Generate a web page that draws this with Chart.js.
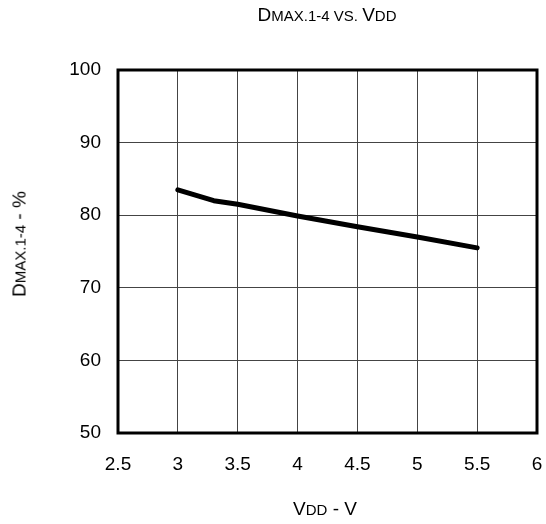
<!DOCTYPE html>
<html>
<head>
<meta charset="utf-8">
<script src="https://cdn.jsdelivr.net/npm/chart.js@4.4.1/dist/chart.umd.min.js"></script>
<style>
  html, body { margin: 0; padding: 0; background: #fff; }
  #wrap { position: relative; width: 546px; height: 524px; }
  canvas { position: absolute; left: 0; top: 0; }
  .lbl { position: absolute; font-family: "Liberation Sans", Arial, sans-serif; color: #000; white-space: nowrap; line-height: 1; }
  .big { font-size: 19px; }
  .sm { font-size: 15px; }
  #title { left: 327px; top: 14px; transform: translate(-50%, -50%); }
  #xtitle { left: 325px; top: 508px; transform: translate(-50%, -50%); }
  #ytitle { left: 19px; top: 244px; transform: translate(-50%, -50%) rotate(-90deg); }
</style>
</head>
<body>
<div id="wrap">
  <canvas id="c" width="546" height="524"></canvas>
  <div class="lbl" id="title"><span class="big">D</span><span class="sm">MAX.1-4 VS. </span><span class="big">V</span><span class="sm">DD</span></div>
  <div class="lbl" id="xtitle"><span class="big">V</span><span class="sm">DD</span><span class="big"> - V</span></div>
  <div class="lbl" id="ytitle"><span class="big">D</span><span class="sm">MAX.1-4</span><span class="big"> - %</span></div>
</div>
<script>
// Data
const vdd = [3.0, 3.3, 3.5, 4.0, 4.5, 5.0, 5.5];
const dmax = [83.5, 82.0, 81.5, 79.9, 78.4, 77.0, 75.5];
const xTicks = [2.5, 3, 3.5, 4, 4.5, 5, 5.5, 6];
const yTicks = [50, 60, 70, 80, 90, 100];

const points = vdd.map((v, i) => ({ x: v, y: dmax[i] }));

const frame = {
  id: 'frame',
  afterDraw(chart) {
    const a = chart.chartArea;
    const ctx = chart.ctx;
    ctx.save();
    ctx.strokeStyle = '#000';
    ctx.lineWidth = 3;
    ctx.strokeRect(a.left, a.top, a.right - a.left, a.bottom - a.top);
    ctx.restore();
  }
};

new Chart(document.getElementById('c'), {
  type: 'line',
  data: {
    datasets: [{
      data: points,
      borderColor: '#000',
      borderWidth: 5,
      pointRadius: 0,
      tension: 0,
      fill: false,
      borderCapStyle: 'round',
      borderJoinStyle: 'round'
    }]
  },
  options: {
    responsive: false,
    animation: false,
    events: [],
    layout: { padding: { left: 0, right: 9, top: 70, bottom: 0 } },
    plugins: { legend: { display: false }, tooltip: { enabled: false }, title: { display: false } },
    scales: {
      x: {
        type: 'linear',
        min: xTicks[0],
        max: xTicks[xTicks.length - 1],
        afterBuildTicks(s) { s.ticks = xTicks.map(v => ({ value: v })); },
        afterFit(s) { s.height = 91; s.paddingLeft = 0; s.paddingRight = 0; },
        grid: { color: '#444', lineWidth: 1, drawTicks: false },
        border: { display: false },
        ticks: {
          padding: 20,
          color: '#000',
          font: { family: '"Liberation Sans", Arial, sans-serif', size: 19 },
          maxRotation: 0,
          callback: v => String(v)
        }
      },
      y: {
        type: 'linear',
        min: yTicks[0],
        max: yTicks[yTicks.length - 1],
        afterBuildTicks(s) { s.ticks = yTicks.map(v => ({ value: v })); },
        afterFit(s) { s.width = 118; s.paddingTop = 0; s.paddingBottom = 0; },
        grid: { color: '#444', lineWidth: 1, drawTicks: false },
        border: { display: false },
        ticks: {
          padding: 17,
          color: '#000',
          font: { family: '"Liberation Sans", Arial, sans-serif', size: 19 },
          callback: v => String(v)
        }
      }
    }
  },
  plugins: [frame]
});
</script>
</body>
</html>
